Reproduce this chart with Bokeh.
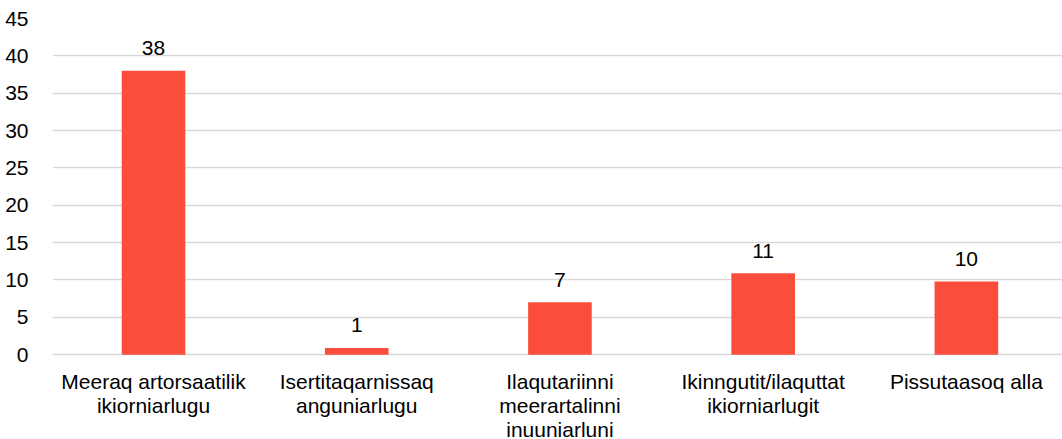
from bokeh.plotting import figure
from bokeh.models import ColumnDataSource, Range1d, FixedTicker, LabelSet
from bokeh.core.properties import value
from bokeh.embed import file_html
from bokeh.resources import INLINE

categories = ["Meeraq artorsaatilik\nikiorniarlugu", "Isertitaqarnissaq\nanguniarlugu",
              "Ilaqutariinni\nmeerartalinni\ninuuniarluni", "Ikinngutit/ilaquttat\nikiorniarlugit",
              "Pissutaasoq alla"]
values = [38, 0.9, 7, 10.9, 9.8]
value_labels = ["38", "1", "7", "11", "10"]
y_ticks = [0, 5, 10, 15, 20, 25, 30, 35, 40, 45]

FONT = "Liberation Sans"
xpos = list(range(len(categories)))
source = ColumnDataSource(dict(x=xpos, cat=categories, val=values, lab=value_labels))

# frame runs to the bottom edge so the category labels (drawn below 0) are not clipped
p = figure(x_range=Range1d(-0.497, 4.473), y_range=Range1d(-11.36, 45),
           width=1062, height=439, output_backend="svg", toolbar_location=None,
           min_border_left=52, min_border_right=0, min_border_top=18, min_border_bottom=0)
p.vbar(x="x", top="val", width=0.313, source=source, color="#FA4D3C", line_color=None)

# data labels above bars
p.add_layout(LabelSet(x="x", y="val", text="lab", source=source, text_align="center",
                      text_baseline="middle", y_offset=22.5, text_font=value(FONT),
                      text_font_size="21px", text_color="#000000"))

# category labels below the baseline, one centred line at a time
split = [c.split("\n") for c in categories]
for i in range(max(len(s) for s in split)):
    xs = [x for x, s in zip(xpos, split) if len(s) > i]
    ts = [s[i] for s in split if len(s) > i]
    src = ColumnDataSource(dict(x=xs, y=[0] * len(xs), t=ts))
    p.add_layout(LabelSet(x="x", y="y", text="t", source=src, text_align="center",
                          text_baseline="alphabetic", y_offset=-34 - 24 * i,
                          text_font=value(FONT), text_font_size="21px",
                          text_color="#000000"))

p.outline_line_color = None
p.xgrid.grid_line_color = None
p.ygrid.grid_line_color = "#D9D9D9"
p.ygrid.grid_line_width = 1.5
p.xaxis.visible = False
p.yaxis.ticker = FixedTicker(ticks=y_ticks)
p.yaxis.axis_line_color = None
p.yaxis.major_tick_line_color = None
p.yaxis.minor_tick_line_color = None
p.yaxis.major_label_text_font = FONT
p.yaxis.major_label_text_font_size = "21px"
p.yaxis.major_label_text_color = "#000000"
p.yaxis.major_label_standoff = 18

open("out.html", "w").write(file_html(p, INLINE))
